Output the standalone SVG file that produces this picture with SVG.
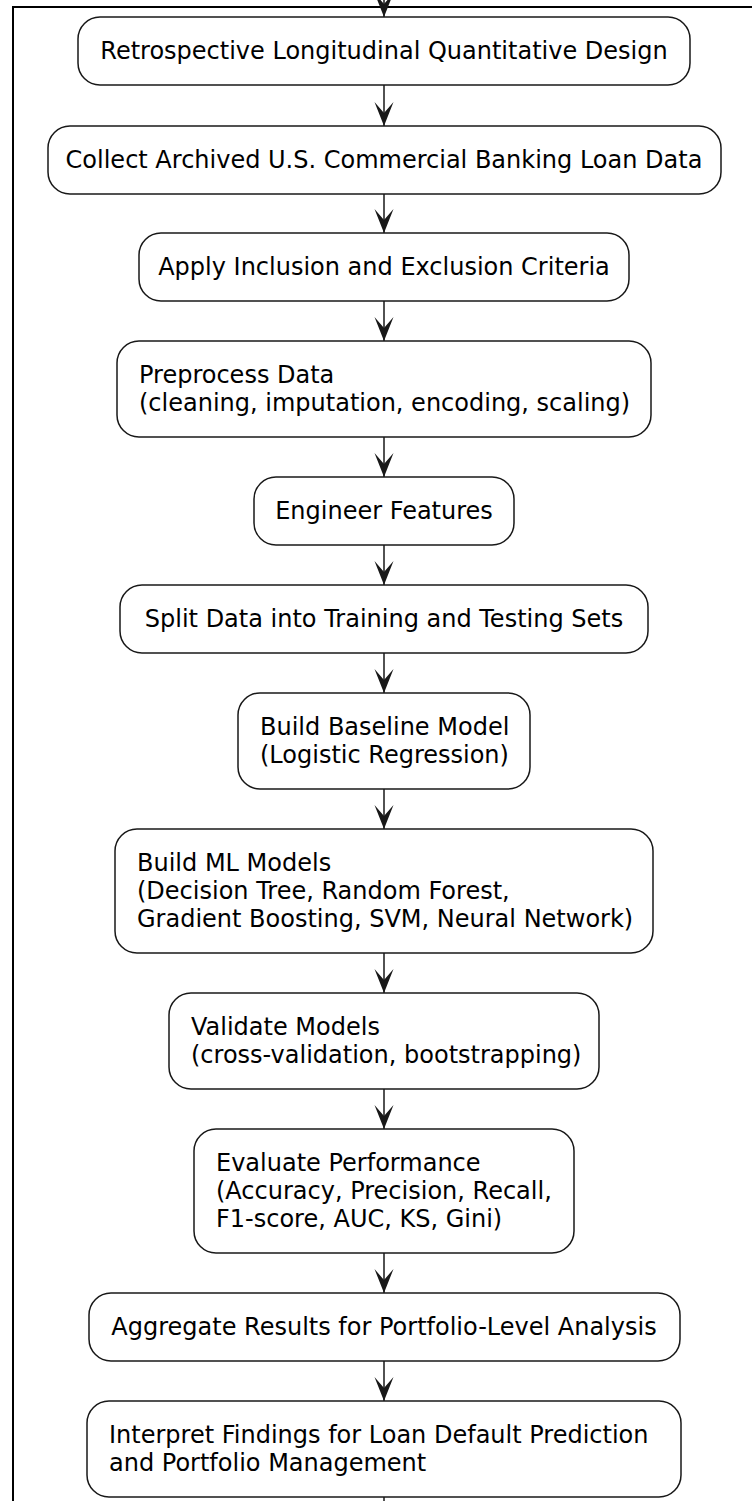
<svg xmlns="http://www.w3.org/2000/svg" width="752" height="1501" viewBox="0 0 752 1501">
  <defs>
    <style>
      .box { fill: #ffffff; stroke: #181818; stroke-width: 1.5; }
      .lbl { font-family: "DejaVu Sans", "Noto Sans", sans-serif; font-size: 24px; fill: #000000; }
      .mid { text-anchor: middle; }
      .edge { fill: none; stroke: #181818; stroke-width: 1.5; }
      .frame { fill: none; stroke: #000000; stroke-width: 2; }
    </style>
    <marker id="ah" viewBox="0 0 24 20" refX="24" refY="10" markerWidth="24" markerHeight="20" orient="auto" markerUnits="userSpaceOnUse">
      <path d="M0,0.5 L24,10 L0,19.5 L11,10 Z" fill="#181818"/>
    </marker>
  </defs>

  <rect width="752" height="1501" fill="#ffffff"/>

  <!-- outer frame (top and left edges visible) -->
  <path class="frame" d="M13,1502 V7 H753"/>

  <!-- connectors -->
  <g id="connectors">
    <path class="edge" d="M384,-12 V17" marker-end="url(#ah)"/>
    <path class="edge" d="M384,85 V126" marker-end="url(#ah)"/>
    <path class="edge" d="M384,194 V233" marker-end="url(#ah)"/>
    <path class="edge" d="M384,301 V341" marker-end="url(#ah)"/>
    <path class="edge" d="M384,437 V477" marker-end="url(#ah)"/>
    <path class="edge" d="M384,545 V585" marker-end="url(#ah)"/>
    <path class="edge" d="M384,653 V693" marker-end="url(#ah)"/>
    <path class="edge" d="M384,789 V829" marker-end="url(#ah)"/>
    <path class="edge" d="M384,953 V993" marker-end="url(#ah)"/>
    <path class="edge" d="M384,1089 V1129" marker-end="url(#ah)"/>
    <path class="edge" d="M384,1253 V1293" marker-end="url(#ah)"/>
    <path class="edge" d="M384,1361 V1401" marker-end="url(#ah)"/>
    <path class="edge" d="M384,1497 V1510"/>
  </g>

  <g id="n1">
    <rect class="box" x="78" y="17" width="612" height="68" rx="22" ry="22"/>
    <text class="lbl mid" x="384" y="59">Retrospective Longitudinal Quantitative Design</text>
  </g>
  <g id="n2">
    <rect class="box" x="48" y="126" width="673" height="68" rx="22" ry="22"/>
    <text class="lbl mid" x="384" y="168">Collect Archived U.S. Commercial Banking Loan Data</text>
  </g>
  <g id="n3">
    <rect class="box" x="139" y="233" width="490" height="68" rx="22" ry="22"/>
    <text class="lbl mid" x="384" y="275">Apply Inclusion and Exclusion Criteria</text>
  </g>
  <g id="n4">
    <rect class="box" x="117" y="341" width="534" height="96" rx="22" ry="22"/>
    <text class="lbl" x="139" y="383">Preprocess Data</text>
    <text class="lbl" x="139" y="411">(cleaning, imputation, encoding, scaling)</text>
  </g>
  <g id="n5">
    <rect class="box" x="254" y="477" width="260" height="68" rx="22" ry="22"/>
    <text class="lbl mid" x="384" y="519">Engineer Features</text>
  </g>
  <g id="n6">
    <rect class="box" x="120" y="585" width="528" height="68" rx="22" ry="22"/>
    <text class="lbl mid" x="384" y="627">Split Data into Training and Testing Sets</text>
  </g>
  <g id="n7">
    <rect class="box" x="238" y="693" width="292" height="96" rx="22" ry="22"/>
    <text class="lbl" x="260" y="735">Build Baseline Model</text>
    <text class="lbl" x="260" y="763">(Logistic Regression)</text>
  </g>
  <g id="n8">
    <rect class="box" x="115" y="829" width="538" height="124" rx="22" ry="22"/>
    <text class="lbl" x="137" y="871">Build ML Models</text>
    <text class="lbl" x="137" y="899">(Decision Tree, Random Forest,</text>
    <text class="lbl" x="137" y="927">Gradient Boosting, SVM, Neural Network)</text>
  </g>
  <g id="n9">
    <rect class="box" x="169" y="993" width="430" height="96" rx="22" ry="22"/>
    <text class="lbl" x="191" y="1035">Validate Models</text>
    <text class="lbl" x="191" y="1063">(cross-validation, bootstrapping)</text>
  </g>
  <g id="n10">
    <rect class="box" x="194" y="1129" width="380" height="124" rx="22" ry="22"/>
    <text class="lbl" x="216" y="1171">Evaluate Performance</text>
    <text class="lbl" x="216" y="1199">(Accuracy, Precision, Recall,</text>
    <text class="lbl" x="216" y="1227">F1-score, AUC, KS, Gini)</text>
  </g>
  <g id="n11">
    <rect class="box" x="89" y="1293" width="591" height="68" rx="22" ry="22"/>
    <text class="lbl mid" x="384" y="1335">Aggregate Results for Portfolio-Level Analysis</text>
  </g>
  <g id="n12">
    <rect class="box" x="87" y="1401" width="594" height="96" rx="22" ry="22"/>
    <text class="lbl" x="109" y="1443">Interpret Findings for Loan Default Prediction</text>
    <text class="lbl" x="109" y="1471">and Portfolio Management</text>
  </g>
</svg>
